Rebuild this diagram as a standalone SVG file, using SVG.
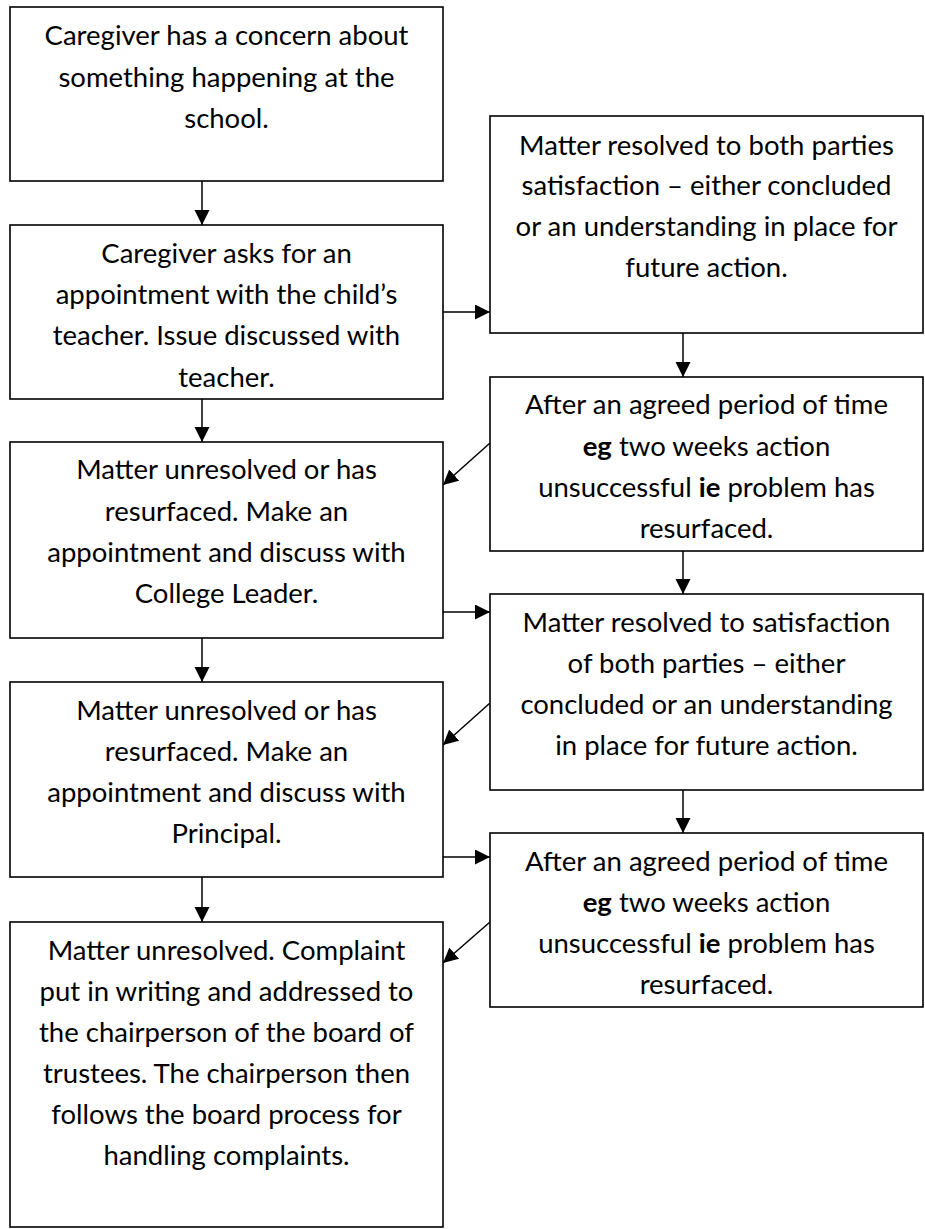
<svg xmlns="http://www.w3.org/2000/svg" width="925" height="1229" viewBox="0 0 925 1229">
<style>
.box{fill:#fff;stroke:#000;stroke-width:1.6}
.t{font-family:Lato,"Open Sans","Liberation Sans",sans-serif;font-size:27.5px;fill:#000;text-anchor:middle}
.b{font-weight:bold}
.c{stroke:#000;stroke-width:1.5;fill:none}
</style>
<defs>
<marker id="ah" markerUnits="userSpaceOnUse" markerWidth="16" markerHeight="16" refX="15" refY="7.5" orient="auto">
<path d="M0,0 L15,7.5 L0,15 z" fill="#000"/>
</marker>
</defs>
<g id="connectors">
<line class="c" x1="202" y1="181" x2="202" y2="225" marker-end="url(#ah)"/>
<line class="c" x1="202" y1="399" x2="202" y2="442" marker-end="url(#ah)"/>
<line class="c" x1="202" y1="638" x2="202" y2="682" marker-end="url(#ah)"/>
<line class="c" x1="202" y1="877" x2="202" y2="922" marker-end="url(#ah)"/>
<line class="c" x1="683" y1="333" x2="683" y2="377" marker-end="url(#ah)"/>
<line class="c" x1="683" y1="551" x2="683" y2="594" marker-end="url(#ah)"/>
<line class="c" x1="683" y1="790" x2="683" y2="833" marker-end="url(#ah)"/>
<line class="c" x1="443" y1="312" x2="490" y2="312" marker-end="url(#ah)"/>
<line class="c" x1="443" y1="612" x2="490" y2="612" marker-end="url(#ah)"/>
<line class="c" x1="443" y1="857" x2="490" y2="857" marker-end="url(#ah)"/>
<line class="c" x1="490" y1="443" x2="443" y2="485" marker-end="url(#ah)"/>
<line class="c" x1="490" y1="703" x2="443" y2="745" marker-end="url(#ah)"/>
<line class="c" x1="490" y1="922" x2="443" y2="963" marker-end="url(#ah)"/>
</g>
<g id="n1">
<rect class="box" x="10" y="7" width="433" height="174"/>
<text class="t" x="226.5" y="45">Caregiver has a concern about</text>
<text class="t" x="226.5" y="87">something happening at the</text>
<text class="t" x="226.5" y="128">school.</text>
</g>
<g id="n2">
<rect class="box" x="10" y="225" width="433" height="174"/>
<text class="t" x="226.5" y="263">Caregiver asks for an</text>
<text class="t" x="226.5" y="304">appointment with the child’s</text>
<text class="t" x="226.5" y="345">teacher. Issue discussed with</text>
<text class="t" x="226.5" y="387">teacher.</text>
</g>
<g id="n3">
<rect class="box" x="10" y="442" width="433" height="196"/>
<text class="t" x="226.5" y="479">Matter unresolved or has</text>
<text class="t" x="226.5" y="521">resurfaced. Make an</text>
<text class="t" x="226.5" y="562">appointment and discuss with</text>
<text class="t" x="226.5" y="603">College Leader.</text>
</g>
<g id="n4">
<rect class="box" x="10" y="682" width="433" height="195"/>
<text class="t" x="226.5" y="720">Matter unresolved or has</text>
<text class="t" x="226.5" y="761">resurfaced. Make an</text>
<text class="t" x="226.5" y="802">appointment and discuss with</text>
<text class="t" x="226.5" y="843">Principal.</text>
</g>
<g id="n5">
<rect class="box" x="10" y="922" width="433" height="305"/>
<text class="t" x="226.5" y="960">Matter unresolved. Complaint</text>
<text class="t" x="226.5" y="1001">put in writing and addressed to</text>
<text class="t" x="226.5" y="1042">the chairperson of the board of</text>
<text class="t" x="226.5" y="1083">trustees. The chairperson then</text>
<text class="t" x="226.5" y="1124">follows the board process for</text>
<text class="t" x="226.5" y="1165">handling complaints.</text>
</g>
<g id="r1">
<rect class="box" x="490" y="116" width="433" height="217"/>
<text class="t" x="706.5" y="155">Matter resolved to both parties</text>
<text class="t" x="706.5" y="195">satisfaction – either concluded</text>
<text class="t" x="706.5" y="236">or an understanding in place for</text>
<text class="t" x="706.5" y="277">future action.</text>
</g>
<g id="r2">
<rect class="box" x="490" y="377" width="433" height="174"/>
<text class="t" x="706.5" y="414">After an agreed period of time</text>
<text class="t" x="706.5" y="456"><tspan class="b">eg</tspan> two weeks action</text>
<text class="t" x="706.5" y="497">unsuccessful <tspan class="b">ie</tspan> problem has</text>
<text class="t" x="706.5" y="538">resurfaced.</text>
</g>
<g id="r3">
<rect class="box" x="490" y="594" width="433" height="196"/>
<text class="t" x="706.5" y="632">Matter resolved to satisfaction</text>
<text class="t" x="706.5" y="673">of both parties – either</text>
<text class="t" x="706.5" y="714">concluded or an understanding</text>
<text class="t" x="706.5" y="755">in place for future action.</text>
</g>
<g id="r4">
<rect class="box" x="490" y="833" width="433" height="174"/>
<text class="t" x="706.5" y="871">After an agreed period of time</text>
<text class="t" x="706.5" y="912"><tspan class="b">eg</tspan> two weeks action</text>
<text class="t" x="706.5" y="953">unsuccessful <tspan class="b">ie</tspan> problem has</text>
<text class="t" x="706.5" y="994">resurfaced.</text>
</g>
</svg>
